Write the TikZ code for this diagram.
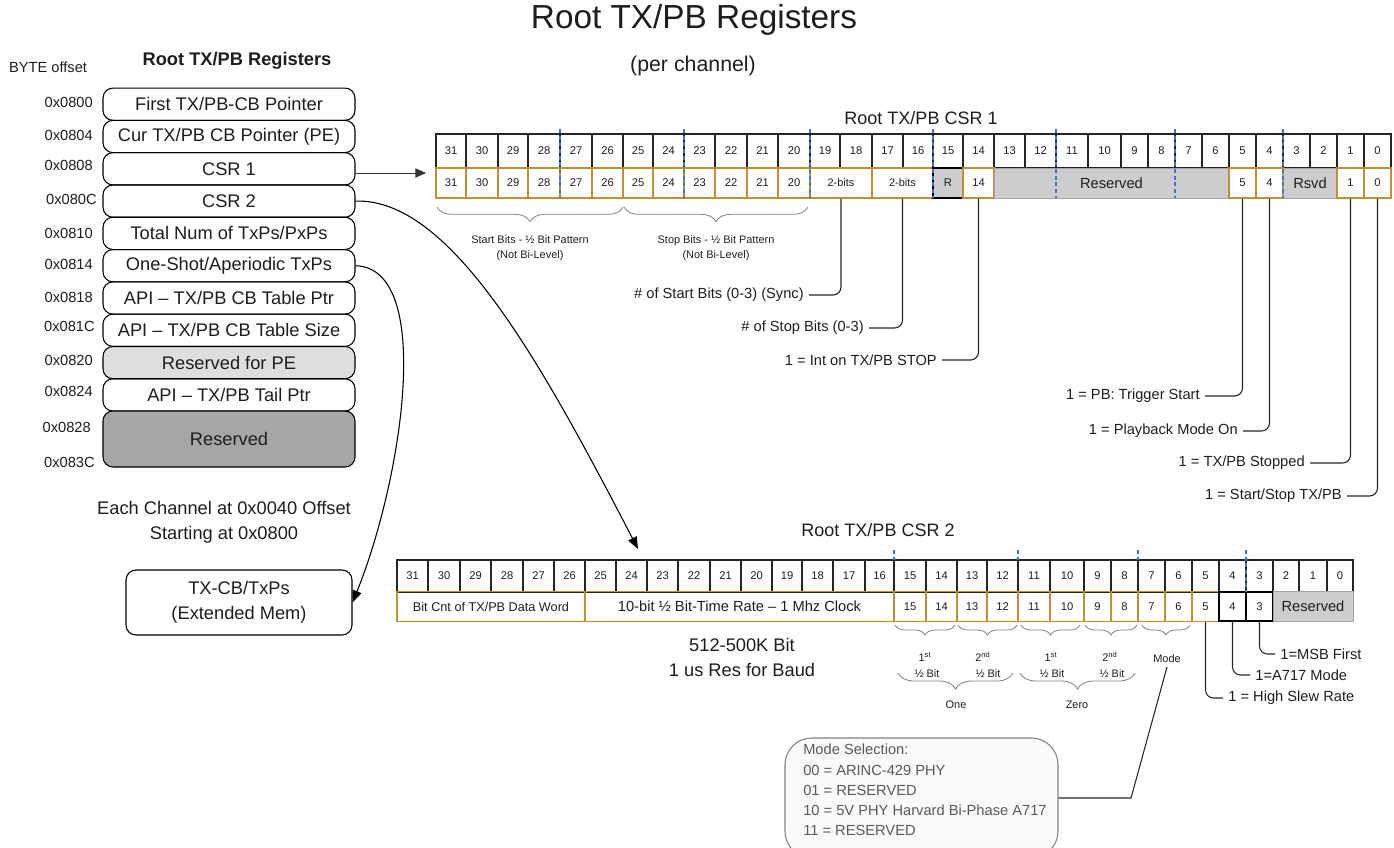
\documentclass[tikz,border=0pt]{standalone}
\usepackage{fontspec}
\setmainfont{Liberation Sans}
\usetikzlibrary{arrows.meta,decorations.pathreplacing,calc}
\definecolor{txt}{RGB}{30,30,30}
\definecolor{gold}{RGB}{191,144,50}
\definecolor{nib}{RGB}{68,114,196}
\definecolor{rsv}{RGB}{205,205,205}
\definecolor{rsvlight}{RGB}{222,222,222}
\definecolor{rsvdark}{RGB}{166,166,166}
\definecolor{modegray}{RGB}{89,89,89}
\definecolor{modeline}{RGB}{130,130,130}
\definecolor{modefill}{RGB}{250,250,250}
\newcommand\szTitle{\fontsize{25}{30}\selectfont}
\newcommand\szSub{\fontsize{16}{19}\selectfont}
\newcommand\szBox{\fontsize{13.7}{18.75}\selectfont}
\newcommand\szOff{\fontsize{11}{13}\selectfont}
\newcommand\szNum{\fontsize{8.4}{10}\selectfont}
\newcommand\szLab{\fontsize{11}{15.2}\selectfont}
\newcommand\szTiny{\fontsize{8.2}{11.5}\selectfont}
\newcommand\szReg{\fontsize{13.5}{16}\selectfont}
\begin{document}
\begin{tikzpicture}[x=0.75pt,y=-0.75pt,
  every node/.style={inner sep=0pt, text=txt},
  lbox/.style={draw=black, line width=0.8pt, rounded corners=7.5pt, minimum width=189pt, minimum height=24.2pt, font=\szBox},
  offl/.style={anchor=east, font=\szOff},
  topcell/.style={draw=black!85, line width=0.9pt, font=\szNum},
  gcell/.style={draw=gold, line width=0.9pt, font=\szNum},
  kcell/.style={draw=black, line width=1.2pt, font=\szNum},
  gfield/.style={draw=rsv!80!black, fill=rsv, line width=0.6pt},
  nibl/.style={draw=nib, line width=0.8pt, dash pattern=on 3pt off 2pt},
  lab/.style={font=\szLab, outer sep=4pt},
  conn/.style={draw=black!85, line width=0.8pt, rounded corners=6pt},
  brc/.style={draw=gray, line width=0.6pt, decorate, decoration={brace, mirror, amplitude=#1}},
  brc/.default=9pt,
  arr/.style={draw=black, line width=0.8pt, -{Triangle[length=9pt,width=7pt]}}
]
\useasboundingbox (0,0) rectangle (1394,847);

% ---------- titles ----------
\node[font=\szTitle] (title) at (694,20) {Root TX/PB Registers};
\node[font=\szSub] (sub) at (693,66) {(per channel)};

% ---------- left register list ----------
\node[font=\szBox\bfseries] (lhead) at (237,61) {Root TX/PB Registers};
\node[font=\szOff] (byte) at (48,67) {BYTE offset};

\node[lbox] (r1) at (229,104.2) {First TX/PB-CB Pointer};
\node[lbox] (r2) at (229,136.5) {Cur TX/PB CB Pointer (PE)};
\node[lbox] (r3) at (229,168.8) {CSR 1};
\node[lbox] (r4) at (229,201.1) {CSR 2};
\node[lbox] (r5) at (229,233.4) {Total Num of TxPs/PxPs};
\node[lbox] (r6) at (229,265.7) {One-Shot/Aperiodic TxPs};
\node[lbox] (r7) at (229,298.0) {API – TX/PB CB Table Ptr};
\node[lbox] (r8) at (229,330.3) {API – TX/PB CB Table Size};
\node[lbox, fill=rsvlight] (r9) at (229,362.6) {Reserved for PE};
\node[lbox] (r10) at (229,394.9) {API – TX/PB Tail Ptr};
\node[lbox, fill=rsvdark, minimum height=42pt] (r11) at (229,439) {Reserved};

\node[offl] (o1) at (93,102) {0x0800};
\node[offl] (o2) at (93,135) {0x0804};
\node[offl] (o3) at (93,165) {0x0808};
\node[offl] (o4) at (97,199) {0x080C};
\node[offl] (o5) at (93,233) {0x0810};
\node[offl] (o6) at (93,264) {0x0814};
\node[offl] (o7) at (93,297) {0x0818};
\node[offl] (o8) at (95,326) {0x081C};
\node[offl] (o9) at (93,360) {0x0820};
\node[offl] (o10) at (93,391) {0x0824};
\node[offl] (o11) at (91,427) {0x0828};
\node[offl] (o12) at (95,462) {0x083C};

\node[font=\szBox, align=center] (each) at (224,522) {Each Channel at 0x0040 Offset\\Starting at 0x0800};
\node[draw=black, line width=0.8pt, rounded corners=7.5pt, minimum width=169.5pt, minimum height=48.75pt, font=\szBox, align=center] (txcb) at (239,602.5) {TX-CB/TxPs\\(Extended Mem)};

% ---------- CSR 1 ----------
\node[font=\szReg] (csr1t) at (921,118) {Root TX/PB CSR 1};
\foreach \b/\l/\r in {31/436/466,30/466/498,29/498/528,28/528/560,27/560/592,26/592/623,25/623/653,24/653/684,23/684/715,22/715/747,21/747/778,20/778/810,19/810/840,18/840/872,17/872/903,16/903/933,15/933/963,14/963/994,13/994/1025,12/1025/1056,11/1056/1088,10/1088/1121,9/1121/1148,8/1148/1175,7/1175/1202,6/1202/1229,5/1229/1256,4/1256/1283,3/1283/1310,2/1310/1337,1/1337/1364,0/1364/1391}
  \node[topcell, minimum width={(\r-\l)*0.75pt}, minimum height=25.5pt] (a\b) at ({(\l+\r)/2},151) {\b};
\foreach \b/\l/\r in {31/436/466,30/466/498,29/498/528,28/528/560,27/560/592,26/592/623,25/623/653,24/653/684,23/684/715,22/715/747,21/747/778,20/778/810}
  \node[gcell, minimum width={(\r-\l)*0.75pt}, minimum height=22.5pt] (b\b) at ({(\l+\r)/2},183) {\b};
\node[gcell, minimum width=46.5pt, minimum height=22.5pt, font=\szTiny] (f19) at (841,183) {2-bits};
\node[gcell, minimum width=45.75pt, minimum height=22.5pt, font=\szTiny] (f17) at (902.5,183) {2-bits};
\node[kcell, fill=rsv, line width=0.8pt, minimum width=22.5pt, minimum height=22.5pt] (b15) at (948,183) {R};
\node[gcell, minimum width=23.25pt, minimum height=22.5pt] (b14) at (978.5,183) {14};
\node[gfield, minimum width=176.25pt, minimum height=22.5pt, font=\szLab] (rs1) at (1111.5,183) {Reserved};
\node[gcell, minimum width=20.25pt, minimum height=22.5pt] (b5) at (1242.5,183) {5};
\node[gcell, minimum width=20.25pt, minimum height=22.5pt] (b4) at (1269.5,183) {4};
\node[gfield, minimum width=40.5pt, minimum height=22.5pt, font=\szLab] (rsvd1) at (1310,183) {Rsvd};
\node[gcell, minimum width=20.25pt, minimum height=22.5pt] (b1) at (1350.5,183) {1};
\node[gcell, minimum width=20.25pt, minimum height=22.5pt] (b0) at (1377.5,183) {0};
\foreach \x in {560,684,810,933,1056,1175,1283}
  \draw[nibl] (\x,129) -- (\x,198);

% braces CSR1
\draw[brc=11pt] (437,207) -- (623,207);
\draw[brc=11pt] (624,207) -- (808,207);
\node[font=\szTiny, align=center] (stb) at (530,248) {Start Bits - ½ Bit Pattern\\(Not Bi-Level)};
\node[font=\szTiny, align=center] (spb) at (716,248) {Stop Bits - ½ Bit Pattern\\(Not Bi-Level)};

% labels CSR1
\node[lab, anchor=east] (l19) at (809,295) {\# of Start Bits (0-3) (Sync)};
\node[lab, anchor=east] (l17) at (869,328) {\# of Stop Bits (0-3)};
\node[lab, anchor=east] (l14) at (942,360) {1 = Int on TX/PB STOP};
\node[lab, anchor=east] (l5) at (1205,396) {1 = PB: Trigger Start};
\node[lab, anchor=east] (l4) at (1243,431) {1 = Playback Mode On};
\node[lab, anchor=east] (l1) at (1310,463) {1 = TX/PB Stopped};
\node[lab, anchor=east] (l0) at (1347,496) {1 = Start/Stop TX/PB};
\draw[conn] (f19.south) |- (l19.east);
\draw[conn] (f17.south) |- (l17.east);
\draw[conn] (b14.south) |- (l14.east);
\draw[conn] (b5.south) |- (l5.east);
\draw[conn] (b4.south) |- (l4.east);
\draw[conn] (b1.south) |- (l1.east);
\draw[conn] (b0.south) |- (l0.east);

% ---------- CSR 2 ----------
\node[font=\szReg] (csr2t) at (878,530) {Root TX/PB CSR 2};
\foreach \b/\l/\r in {31/397/428,30/428/460,29/460/491,28/491/523,27/523/554,26/554/585,25/585/616,24/616/647,23/647/678,22/678/710,21/710/741,20/741/772,19/772/802,18/802/833,17/833/865,16/865/894,15/894/926,14/926/957,13/957/987,12/987/1018,11/1018/1050,10/1050/1084,9/1084/1111,8/1111/1138,7/1138/1165,6/1165/1192,5/1192/1219,4/1219/1246,3/1246/1273,2/1273/1299,1/1299/1327,0/1327/1353}
  \node[topcell, minimum width={(\r-\l)*0.75pt}, minimum height=24pt] (c\b) at ({(\l+\r)/2},576) {\b};
\node[gcell, minimum width=141pt, minimum height=22pt, font=\fontsize{9.5}{11}\selectfont] (d31) at (491,606.5) {Bit Cnt of TX/PB Data Word};
\node[gcell, minimum width=231.75pt, minimum height=22pt, font=\szLab] (d25) at (739.5,606.5) {10-bit ½ Bit-Time Rate – 1 Mhz Clock};
\foreach \b/\l/\r in {15/894/926,14/926/957,13/957/987,12/987/1018,11/1018/1050,10/1050/1084,9/1084/1111,8/1111/1138,7/1138/1165,6/1165/1192,5/1192/1219}
  \node[gcell, minimum width={(\r-\l)*0.75pt}, minimum height=22pt] (d\b) at ({(\l+\r)/2},606.5) {\b};
\node[kcell, minimum width=20.25pt, minimum height=22pt] (d4) at (1232.5,606.5) {4};
\node[kcell, minimum width=20.25pt, minimum height=22pt] (d3) at (1259.5,606.5) {3};
\node[gfield, minimum width=60pt, minimum height=22pt, font=\szLab] (d2) at (1313,606.5) {Reserved};
\foreach \x in {894,1018,1138}
  \draw[nibl] (\x,550) -- (\x,560);
\draw[nibl] (1246,550) -- (1246,592);

\node[font=\szBox, align=center] (baud) at (742,657) {512-500K Bit\\1 us Res for Baud};

% braces CSR2
\draw[brc=7.5pt] (895,625) -- (955,625);
\draw[brc=7.5pt] (958,625) -- (1017,625);
\draw[brc=7.5pt] (1021,625) -- (1080,625);
\draw[brc=7.5pt] (1085,625) -- (1137,625);
\draw[brc=7.5pt] (1142,625) -- (1190,625);
\node[font=\szTiny] (h1a) at (925,657) {1\textsuperscript{st}};
\node[font=\szTiny] (h1b) at (927,674) {½ Bit};
\node[font=\szTiny] (h2a) at (983,657) {2\textsuperscript{nd}};
\node[font=\szTiny] (h2b) at (988,674) {½ Bit};
\node[font=\szTiny] (h3a) at (1051,657) {1\textsuperscript{st}};
\node[font=\szTiny] (h3b) at (1052,674) {½ Bit};
\node[font=\szTiny] (h4a) at (1110,657) {2\textsuperscript{nd}};
\node[font=\szTiny] (h4b) at (1112,674) {½ Bit};
\node[font=\szTiny, outer sep=3pt] (model) at (1167,659) {Mode};
\draw[brc=12pt] (898,673) -- (1013,673);
\draw[brc=12pt] (1020,673) -- (1135,673);
\node[font=\szTiny] (one) at (956,705) {One};
\node[font=\szTiny] (zero) at (1077,705) {Zero};

% labels CSR2
\node[lab, anchor=west] (m3) at (1275,654) {1=MSB First};
\node[lab, anchor=west] (m4) at (1250,675) {1=A717 Mode};
\node[lab, anchor=west] (m5) at (1223,698) {1 = High Slew Rate};
\draw[conn] (d3.south) |- (m3.west);
\draw[conn] (d4.south) |- (m4.west);
\draw[conn] (d5.south) |- (m5.west);

% mode selection box
\node[draw=modeline, fill=modefill, line width=0.8pt, rounded corners=20pt, minimum width=204.75pt, minimum height=90pt] (modebox) at (921.5,798) {};
\node[anchor=north west, align=left, font=\szLab, text=modegray] (modetxt) at (803,744) {Mode Selection:\\00 = ARINC-429 PHY\\01 = RESERVED\\10 = 5V PHY Harvard Bi-Phase A717\\11 = RESERVED};
\coordinate (mbend) at (1131,798);
\draw[draw=black!85, line width=0.8pt] (model.south) -- (mbend) -- (modebox.east);

% ---------- arrows from list ----------
\coordinate (a1end) at (426,173);
\draw[draw=black!80, line width=0.7pt, -{Triangle[length=8pt,width=7pt]}] (r3.east |- a1end) -- (a1end);
\coordinate (a2end) at (638,549);
\draw[arr] (r4.east) .. controls (450,198) and (540,360) .. (a2end);
\draw[arr] (r6.east) .. controls (435,268) and (402,480) .. (txcb.east);
\end{tikzpicture}
\end{document}
